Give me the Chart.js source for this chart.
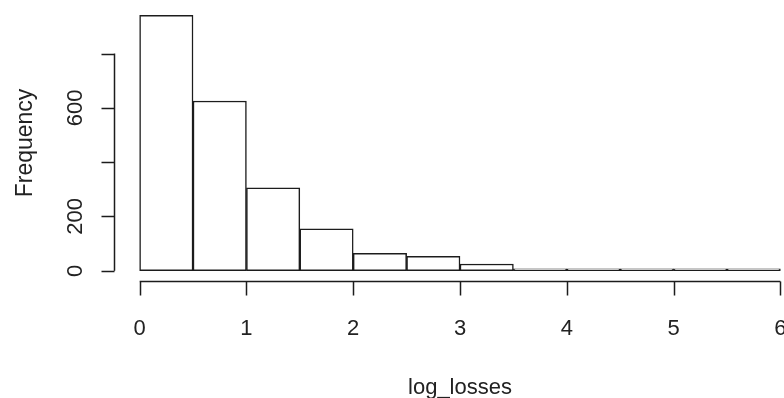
<!DOCTYPE html>
<html>
<head>
<meta charset="utf-8">
<script src="https://cdn.jsdelivr.net/npm/chart.js@4"></script>
<style>
  html, body { margin: 0; padding: 0; background: #fff; overflow: hidden; }
</style>
</head>
<body>
<canvas id="histo" width="806" height="398"></canvas>
<script>
// histogram of log_losses, R style
const breaks = [0, 0.5, 1, 1.5, 2, 2.5, 3, 3.5, 4, 4.5, 5, 5.5, 6];
const counts = [941, 625, 305, 154, 64, 53, 25, 4, 4, 1, 1, 1];
const xTicks = [0, 1, 2, 3, 4, 5, 6];
const yTicks = [0, 200, 400, 600, 800];
const yTickLabels = ['0', '200', '', '600', ''];
const xTitle = 'log_losses';
const yTitle = 'Frequency';

const mids = counts.map((c, i) => (breaks[i] + breaks[i + 1]) / 2);
const pts = counts.map((c, i) => ({ x: mids[i], y: c }));

// R extends the axis range by 4% on each side
const xr = breaks[breaks.length - 1] - breaks[0];
const ymax = Math.max(...counts);

const ink = '#1c1c1c';
const font = '22px "Liberation Sans", Arial, sans-serif';

const rAxes = {
  id: 'rAxes',
  afterDraw(chart) {
    const ctx = chart.ctx;
    const xs = chart.scales.x, ys = chart.scales.y;
    const area = chart.chartArea;
    ctx.save();
    ctx.strokeStyle = ink;
    ctx.fillStyle = '#222';
    ctx.lineWidth = 1.5;
    ctx.font = font;

    // x axis
    const ax = Math.round(area.bottom) + 0.5;
    const x0 = xs.getPixelForValue(xTicks[0]);
    const x1 = xs.getPixelForValue(xTicks[xTicks.length - 1]);
    ctx.beginPath();
    ctx.moveTo(x0, ax); ctx.lineTo(x1, ax);
    xTicks.forEach(v => {
      const p = Math.round(xs.getPixelForValue(v)) + 0.5;
      ctx.moveTo(p, ax); ctx.lineTo(p, ax + 14);
    });
    ctx.stroke();
    ctx.textAlign = 'center';
    ctx.textBaseline = 'alphabetic';
    xTicks.forEach(v => {
      ctx.fillText(String(v), xs.getPixelForValue(v), 335);
    });
    ctx.fillText(xTitle, (area.left + area.right) / 2, 394);

    // y axis
    const ay = Math.round(area.left) + 0.5;
    const y0 = ys.getPixelForValue(yTicks[0]);
    const y1 = ys.getPixelForValue(yTicks[yTicks.length - 1]);
    ctx.beginPath();
    ctx.moveTo(ay, y0); ctx.lineTo(ay, y1);
    yTicks.forEach(v => {
      const p = Math.round(ys.getPixelForValue(v)) + 0.5;
      ctx.moveTo(ay, p); ctx.lineTo(ay - 13, p);
    });
    ctx.stroke();
    yTicks.forEach((v, i) => {
      if (!yTickLabels[i]) return;
      ctx.save();
      ctx.translate(82, ys.getPixelForValue(v));
      ctx.rotate(-Math.PI / 2);
      ctx.fillText(yTickLabels[i], 0, 0);
      ctx.restore();
    });
    ctx.save();
    ctx.translate(32, (area.top + area.bottom) / 2);
    ctx.rotate(-Math.PI / 2);
    ctx.font = '23px "Liberation Sans", Arial, sans-serif';
    ctx.fillText(yTitle, 0, 0);
    ctx.restore();

    ctx.restore();
  }
};

new Chart(document.getElementById('histo').getContext('2d'), {
  type: 'bar',
  data: {
    datasets: [{
      data: pts,
      backgroundColor: '#ffffff',
      borderColor: ink,
      borderWidth: 1.5,
      borderSkipped: false,
      minBarLength: 2,
      barPercentage: 1,
      categoryPercentage: 1
    }]
  },
  options: {
    responsive: false,
    animation: false,
    layout: { padding: { left: 114, right: 0, top: 5, bottom: 117 } },
    plugins: { legend: { display: false }, tooltip: { enabled: false } },
    scales: {
      x: {
        type: 'linear',
        offset: false,
        display: false,
        min: breaks[0] - 0.04 * xr,
        max: breaks[breaks.length - 1] + 0.04 * xr
      },
      y: {
        display: false,
        min: -0.04 * ymax,
        max: ymax * 1.04
      }
    }
  },
  plugins: [rAxes]
});
</script>
</body>
</html>
